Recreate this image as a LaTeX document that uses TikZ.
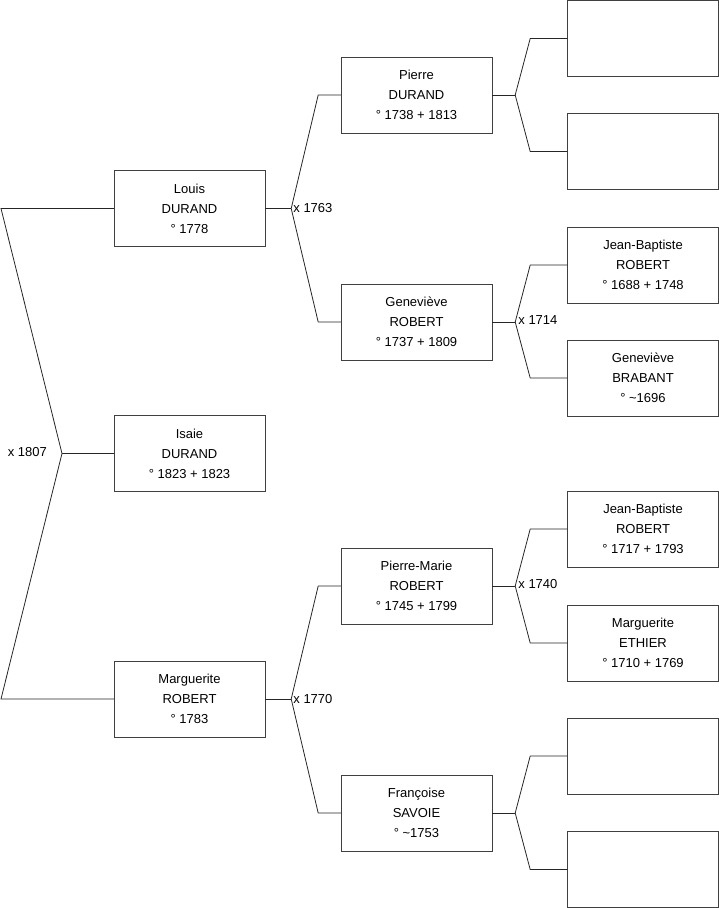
\documentclass[tikz,border=0pt]{standalone}
\usepackage{fontspec}
\setmainfont{Liberation Sans}
\usetikzlibrary{positioning,calc}

\begin{document}
\begin{tikzpicture}[
  x=1pt,y=-1pt,
  person/.style={draw=black!75,minimum width=151pt,minimum height=76pt,inner sep=0pt,
    align=center,font=\fontsize{13}{20}\selectfont},
  link/.style={draw=black!85,line width=0.8pt},
  wed/.style={font=\fontsize{13}{16}\selectfont,inner sep=1pt}
]
\useasboundingbox (0,0) rectangle (719,908);
% ---------- generation 1 ----------
\node[person] (louis) at (189.5,208.5) {Louis\\DURAND\\° 1778};
\node[person] (isaie) at (189.5,453.5) {Isaie\\DURAND\\° 1823 + 1823};
\node[person] (marg) at (189.5,699) {Marguerite\\ROBERT\\° 1783};
% ---------- generation 2 ----------
\node[person] (pierre) at (416.5,95) {Pierre\\DURAND\\° 1738 + 1813};
\node[person] (gene) at (416.5,322) {Geneviève\\ROBERT\\° 1737 + 1809};
\node[person] (pmarie) at (416.5,586) {Pierre-Marie\\ROBERT\\° 1745 + 1799};
\node[person] (franc) at (416.5,813) {Françoise\\SAVOIE\\° \textasciitilde1753};
% ---------- generation 3 ----------
\node[person] (p1) at (643,38.5) {};
\node[person] (p2) at (643,151.5) {};
\node[person] (jb1) at (643,265) {Jean-Baptiste\\ROBERT\\° 1688 + 1748};
\node[person] (gbrab) at (643,378) {Geneviève\\BRABANT\\° \textasciitilde1696};
\node[person] (jb2) at (643,529) {Jean-Baptiste\\ROBERT\\° 1717 + 1793};
\node[person] (meth) at (643,643) {Marguerite\\ETHIER\\° 1710 + 1769};
\node[person] (p7) at (643,756) {};
\node[person] (p8) at (643,869.5) {};
% ---------- forks ----------
\coordinate (f0) at (62,453.5);
\coordinate (f0a) at (1,208.5);
\coordinate (f0b) at (1,699);
\draw[link] (louis.west) -- (f0a) -- (f0) -- (f0b) -- (marg.west);
\draw[link] (f0) -- (isaie.west);
\node[wed,anchor=east] (m0) at ($(f0)+(-14,-1)$) {x 1807};
% Louis / Marguerite
\foreach \kid/\dad/\mom/\yr in {louis/pierre/gene/1763,marg/pmarie/franc/1770}{
  \coordinate (f\kid) at ($(\kid.east)+(26,0)$);
  \draw[link] (\kid.east) -- (f\kid);
  \draw[link] (f\kid) -- ($(f\kid |- \dad.west)+(27,0)$) -- (\dad.west);
  \draw[link] (f\kid) -- ($(f\kid |- \mom.west)+(27,0)$) -- (\mom.west);
  \node[wed,anchor=west] (m\kid) at ($(f\kid)+(1,0)$) {x \yr};
}
% generation 2 forks
\foreach \kid/\dad/\mom/\yr in {pierre/p1/p2/,gene/jb1/gbrab/x 1714,pmarie/jb2/meth/x 1740,franc/p7/p8/}{
  \coordinate (f\kid) at ($(\kid.east)+(23,0)$);
  \draw[link] (\kid.east) -- (f\kid);
  \draw[link] (f\kid) -- ($(f\kid |- \dad.west)+(15,0)$) -- (\dad.west);
  \draw[link] (f\kid) -- ($(f\kid |- \mom.west)+(15,0)$) -- (\mom.west);
  \node[wed,anchor=west] (m\kid) at ($(f\kid)+(2,-2)$) {\yr};
}
\end{tikzpicture}
\end{document}
